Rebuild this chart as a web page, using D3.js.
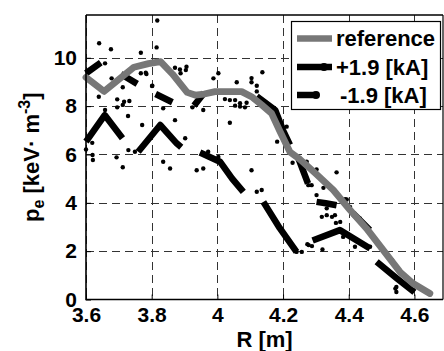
<!DOCTYPE html>
<html><head><meta charset="utf-8">
<script src="https://cdn.jsdelivr.net/npm/d3@7"></script>
<style>
body{margin:0;background:#fff}
svg{display:block}
text{font-family:"Liberation Sans",Arial,sans-serif;font-weight:bold;fill:#000}
</style>
</head><body><svg id="c" width="444" height="351"></svg>
<script>
const xTicks=[3.6,3.8,4.0,4.2,4.4,4.6];
const xTickLabels=["3.6","3.8","4","4.2","4.4","4.6"];
const yTicks=[0,2,4,6,8,10];
const yTickLabels=["0","2","4","6","8","10"];
const legendLabels=["reference","+1.9 [kA]","-1.9 [kA]"];

// reference profile (gray)
const refR=[3.600,3.655,3.746,3.790,3.827,3.863,3.908,3.932,3.960,3.993,4.074,4.104,4.135,4.165,4.190,4.221,4.251,4.300,4.353,4.404,4.454,4.505,4.556,4.596,4.647];
const refP=[9.19,8.61,9.61,9.76,9.84,9.33,8.57,8.46,8.50,8.60,8.60,8.39,8.05,7.70,6.97,6.10,5.80,5.20,4.53,3.70,2.94,2.04,1.14,0.66,0.25];

// +1.9 kA fit (null = gap)
const plusR=[3.600,3.657,3.711,null,3.759,3.826,3.876,3.890,null,3.947,4.008,4.045,4.079,null,4.140,4.190,4.241,null,4.290,4.373,4.465,null,4.485,4.544,4.600];
const plusP=[6.53,7.63,6.67,null,6.11,7.22,6.46,6.30,null,6.08,5.70,5.00,4.45,null,4.04,2.95,1.97,null,2.44,2.87,2.11,null,1.56,0.90,0.30];

// -1.9 kA fit (null = gap)
const minusR=[3.600,3.645,null,3.706,3.756,null,3.812,3.863,null,3.929,3.960,null,4.120,4.176,4.200,4.221,null,4.245,4.276,null,4.302,4.330,4.363,null,4.413,4.464];
const minusP=[9.36,9.80,null,9.33,8.92,null,8.50,8.16,null,8.02,8.55,null,8.40,7.84,7.00,6.40,null,5.90,4.80,null,4.04,3.98,3.90,null,3.57,2.87];

// raw measurement points
const dotR=[3.817,3.640,3.676,3.815,3.767,3.658,3.782,3.767,3.678,3.712,3.639,3.695,3.716,3.732,3.695,3.712,3.728,3.801,3.835,3.871,3.902,3.886,3.904,3.906,3.871,3.924,3.957,3.988,4.003,
3.600,3.620,3.693,3.712,3.729,3.749,3.771,3.835,3.856,3.937,3.957,3.972,3.619,3.621,3.658,3.888,3.784,3.802,
4.059,4.104,4.104,4.120,4.137,4.120,4.023,4.038,4.054,4.069,4.054,4.069,4.084,4.089,4.038,4.211,4.182,4.003,4.104,4.120,4.135,4.229,4.249,4.277,4.274,4.241,4.257,
4.272,4.302,4.363,4.287,4.394,4.404,4.302,4.333,4.333,4.358,4.361,4.278,4.288,4.320,4.414,4.419,4.383,4.525,4.545,4.545,4.647,4.465,4.434,4.323,4.389,4.318,4.349,4.374,4.455,4.532,4.542];
const dotP=[11.54,10.60,10.35,10.43,10.21,9.77,9.38,9.36,9.15,8.78,8.39,8.28,8.18,8.21,7.95,8.05,7.59,8.83,7.91,7.42,6.67,9.52,9.49,9.63,9.59,7.95,7.84,9.15,9.36,
6.21,5.98,5.88,5.47,6.18,6.11,7.22,5.70,5.42,5.35,5.42,6.11,6.48,5.77,7.84,9.36,9.33,8.84,
8.99,9.16,8.99,8.84,9.40,8.61,8.29,8.25,8.25,8.12,8.02,7.98,7.95,8.14,7.31,7.15,6.53,5.90,5.35,4.46,4.53,5.66,5.84,4.73,2.29,1.97,1.97,
5.70,5.38,5.26,4.73,4.14,3.83,4.32,3.77,3.49,3.49,3.17,2.25,2.21,2.07,2.55,2.18,2.59,1.70,0.52,0.31,0.22,2.18,3.35,4.62,4.15,3.42,3.42,3.21,2.18,1.63,0.45];

const svg=d3.select("#c");
const L=86,R=443,T=15,B=299.5;
const x=d3.scaleLinear().domain([3.6,4.687]).range([L,R]);
const y=d3.scaleLinear().domain([0,11.77]).range([B,T]);

// grid
const g=svg.append("g");
g.selectAll(".gx").data(xTicks).join("line")
  .attr("x1",d=>Math.round(x(d))+0.5).attr("x2",d=>Math.round(x(d))+0.5)
  .attr("y1",T).attr("y2",B)
  .attr("stroke","#333").attr("stroke-width",1).attr("stroke-dasharray","8,5");
g.selectAll(".gy").data(yTicks.filter(d=>d>0)).join("line")
  .attr("y1",d=>Math.round(y(d))+0.5).attr("y2",d=>Math.round(y(d))+0.5)
  .attr("x1",L).attr("x2",R)
  .attr("stroke","#333").attr("stroke-width",1).attr("stroke-dasharray","8,5");

// axes (tick labels)
const fontStyle=sel=>sel.style("font-size","21px").style("font-family","'Liberation Sans',Arial,sans-serif").style("font-weight","bold").attr("fill","#000");
const xAxis=d3.axisBottom(x).tickValues(xTicks).tickFormat((d,i)=>xTickLabels[i]).tickSizeInner(-5).tickSizeOuter(0).tickPadding(8);
const ax=svg.append("g").attr("transform",`translate(0,${B})`).call(xAxis);
ax.select(".domain").remove();
ax.selectAll("line").attr("stroke","#000");
ax.selectAll("text").call(fontStyle);

const yAxis=d3.axisLeft(y).tickValues(yTicks).tickFormat((d,i)=>yTickLabels[i]).tickSizeInner(-5).tickSizeOuter(0).tickPadding(9);
const ay=svg.append("g").attr("transform",`translate(${L},0)`).call(yAxis);
ay.select(".domain").remove();
ay.selectAll("line").attr("stroke","#000");
ay.selectAll("text").call(fontStyle);

// data
const pts=(rs,ps)=>rs.map((r,i)=>[r,ps[i]]);
const line=d3.line().defined(d=>d[0]!==null&&d[1]!==null).x(d=>x(d[0])).y(d=>y(d[1]));

svg.append("g").selectAll("circle").data(pts(dotR,dotP)).join("circle")
  .attr("cx",d=>x(d[0])).attr("cy",d=>y(d[1])).attr("r",2.2).attr("fill","#000");

svg.append("path").datum(pts(plusR,plusP)).attr("d",line)
  .attr("fill","none").attr("stroke","#000").attr("stroke-width",6.5).attr("stroke-linejoin","round");
svg.append("path").datum(pts(minusR,minusP)).attr("d",line)
  .attr("fill","none").attr("stroke","#000").attr("stroke-width",6.5).attr("stroke-linejoin","round");
svg.append("path").datum(pts(refR,refP)).attr("d",line)
  .attr("fill","none").attr("stroke","#777").attr("stroke-width",6.8).attr("stroke-linejoin","round").attr("stroke-linecap","round");

// frame
svg.append("path").attr("d",`M${L},${T}H${R}M${L},${T}V${B}H${R}`)
  .attr("fill","none").attr("stroke","#000").attr("stroke-width",1.6);
svg.append("line").attr("x1",R).attr("x2",R).attr("y1",T).attr("y2",B).attr("stroke","#000").attr("stroke-width",1.2);

// axis labels
svg.append("text").attr("x",(L+R)/2).attr("y",347).attr("text-anchor","middle").style("font-size","22px").text("R [m]");
const yl=svg.append("text").attr("transform",`translate(39,${(T+B)/2}) rotate(-90)`).attr("text-anchor","middle").style("font-size","22px");
yl.append("tspan").text("p");
yl.append("tspan").attr("dy",5).style("font-size","16px").text("e");
yl.append("tspan").attr("dy",-5).text(" [keV\u00b7 m");
yl.append("tspan").attr("dy",-9).style("font-size","16px").text("-3");
yl.append("tspan").attr("dy",9).text("]");

// legend
const lg=svg.append("g");
lg.append("rect").attr("x",291.5).attr("y",21.5).attr("width",149).attr("height",88).attr("fill","#fff").attr("stroke","#000").attr("stroke-width",1.2);
const ly=[38.5,67,95];
lg.append("line").attr("x1",297).attr("x2",332).attr("y1",ly[0]).attr("y2",ly[0]).attr("stroke","#777").attr("stroke-width",6.5);
lg.append("line").attr("x1",297).attr("x2",332).attr("y1",ly[1]).attr("y2",ly[1]).attr("stroke","#000").attr("stroke-width",6.5);
lg.append("circle").attr("cx",324).attr("cy",ly[1]).attr("r",4).attr("fill","#000");
lg.append("line").attr("x1",297).attr("x2",315).attr("y1",ly[2]).attr("y2",ly[2]).attr("stroke","#000").attr("stroke-width",6.5);
lg.append("circle").attr("cx",316).attr("cy",ly[2]).attr("r",4).attr("fill","#000");
lg.selectAll("text").data(legendLabels).join("text")
  .attr("x",(d,i)=>i===2?340:336).attr("y",(d,i)=>ly[i]).attr("dy","0.36em")
  .style("font-size","22px").text(d=>d);
</script></body></html>
